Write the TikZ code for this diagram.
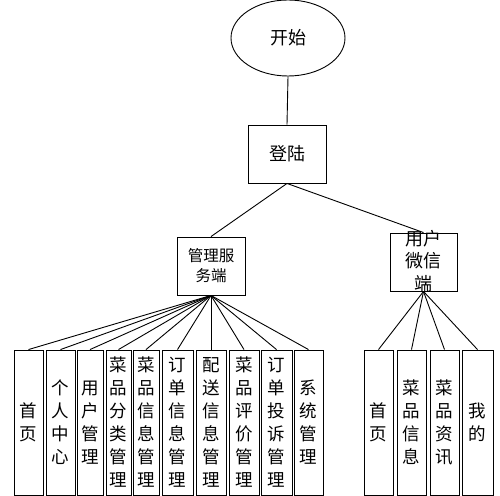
\documentclass[tikz,border=0pt]{standalone}
\usepackage{fontspec}
\newfontfamily\cjk{Noto Sans CJK SC}
\usetikzlibrary{shapes.geometric}
\begin{document}
\begin{tikzpicture}[x=1pt,y=-1pt,
  every node/.style={font=\cjk},
  conn/.style={draw=black,line width=0.9pt},
  topbox/.style={draw=black,line width=0.9pt,inner sep=0pt,align=center},
  leaf/.style={draw=black,line width=0.9pt,inner sep=0pt,minimum height=145pt,align=center,
    font=\cjk\fontsize{17.5}{23}\selectfont}]
\useasboundingbox (0,0) rectangle (500,495);
% top
\node[ellipse,draw=black,line width=0.9pt,minimum width=114pt,minimum height=76pt,inner sep=0pt,
  font=\cjk\fontsize{18}{20}\selectfont] (start) at (288,38) {开始};
\node[topbox,minimum width=78pt,minimum height=58pt,font=\cjk\fontsize{18}{20}\selectfont] (login) at (287,154) {登陆};
\node[topbox,minimum width=68pt,minimum height=58pt,font=\cjk\fontsize{15.5}{20}\selectfont] (admin) at (211,266) {管理服\\务端};
\node[topbox,minimum width=67pt,minimum height=58pt] (user) at (423.5,262) {};
\node[font=\cjk\fontsize{18}{22.5}\selectfont,align=center,inner sep=0pt] (usertxt) at (423.5,261) {用户\\微信\\端};
\draw[conn] (start.south) -- (login.north);
\draw[conn] (login.south) -- (admin.north);
\draw[conn] (login.south) -- (user.north);
% admin leaves
\node[leaf,minimum width=29pt] (a1) at (28.5,422.5) {首\\页};
\node[leaf,minimum width=29pt] (a2) at (60.5,422.5) {个\\人\\中\\心};
\node[leaf,minimum width=26pt] (a3) at (90,422.5) {用\\户\\管\\理};
\node[leaf,minimum width=25pt] (a4) at (118.5,422.5) {菜\\品\\分\\类\\管\\理};
\node[leaf,minimum width=26pt] (a5) at (146,422.5) {菜\\品\\信\\息\\管\\理};
\node[leaf,minimum width=31pt] (a6) at (177.5,422.5) {订\\单\\信\\息\\管\\理};
\node[leaf,minimum width=30pt] (a7) at (211,422.5) {配\\送\\信\\息\\管\\理};
\node[leaf,minimum width=30pt] (a8) at (244,422.5) {菜\\品\\评\\价\\管\\理};
\node[leaf,minimum width=31pt] (a9) at (276.5,422.5) {订\\单\\投\\诉\\管\\理};
\node[leaf,minimum width=29pt] (a10) at (308.5,422.5) {系\\统\\管\\理};
\foreach \i in {1,...,10} {\draw[conn] (admin.south) -- (a\i.north);}
% user leaves
\node[leaf,minimum width=29pt] (u1) at (378.5,422.5) {首\\页};
\node[leaf,minimum width=29pt] (u2) at (411.5,422.5) {菜\\品\\信\\息};
\node[leaf,minimum width=29pt] (u3) at (444.5,422.5) {菜\\品\\资\\讯};
\node[leaf,minimum width=31pt] (u4) at (477.5,422.5) {我\\的};
\foreach \i in {1,...,4} {\draw[conn] (user.south) -- (u\i.north);}
\end{tikzpicture}
\end{document}
